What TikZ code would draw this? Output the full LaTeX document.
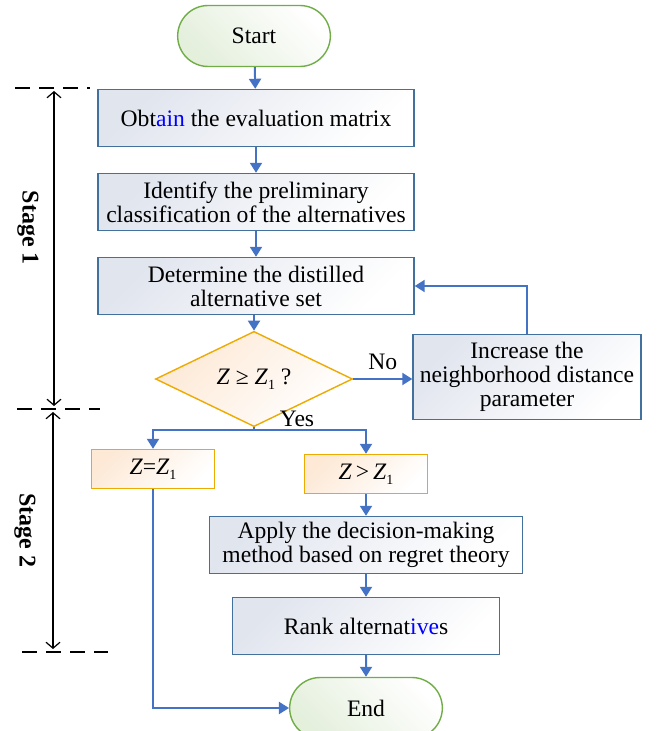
\documentclass[tikz,border=0pt]{standalone}
\usepackage{fontspec}
\setmainfont{Liberation Serif}
\usetikzlibrary{shapes.geometric,shapes.misc,arrows.meta}
\definecolor{flowblue}{HTML}{4472C4}
\definecolor{boxedge}{HTML}{41719C}
\definecolor{boxfill}{HTML}{E1E5EE}
\definecolor{termedge}{HTML}{70AD47}
\definecolor{termfill}{HTML}{E4EFDC}
\definecolor{condedge}{HTML}{EDAA00}
\definecolor{condfill}{HTML}{FDE9D6}
\definecolor{hiblue}{HTML}{0000FF}
\newcommand{\subone}{\raisebox{-0.45ex}{\fontsize{7}{7}\selectfont 1}}

\begin{document}
\begin{tikzpicture}[x=0.5pt,y=-0.5pt,
  font=\fontsize{11.8}{12}\selectfont,
  process/.style={draw=boxedge,line width=0.7pt,top color=boxfill,bottom color=white,shading angle=45,align=center,inner sep=0pt,minimum height=28.5pt},
  terminal/.style={rounded rectangle,draw=termedge,line width=0.7pt,top color=white,bottom color=termfill,shading angle=-45,minimum width=83pt,minimum height=30.5pt},
  condition/.style={draw=condedge,line width=0.7pt,top color=condfill,bottom color=white,shading angle=45,inner sep=0pt},
  flow/.style={draw=flowblue,line width=1pt,-{Triangle[length=5pt,width=6pt]}},
  dim/.style={draw=black,line width=0.6pt,{Straight Barb[length=3pt,width=7pt]}-{Straight Barb[length=3pt,width=7pt]}},
  guide/.style={draw=black,line width=0.7pt,dash pattern=on 7.5pt off 4.5pt},
  stage/.style={rotate=-90,font=\fontsize{12}{12}\selectfont\bfseries}]
  \useasboundingbox (0,0) rectangle (657,731);

  % main column
  \node [terminal] (start) at (254,36) {Start};
  \node [process,minimum width=158pt] (obtain) at (256,118) {Obt\textcolor{hiblue}{ain} the evaluation matrix};
  \node [process,minimum width=158pt] (identify) at (256,202) {Identify the preliminary\\classification of the alternatives};
  \node [process,minimum width=158pt] (distil) at (256,286) {Determine the distilled\\alternative set};
  \node [condition,diamond,minimum width=98.5pt,minimum height=36pt] (cond) at (254,379) {\textit{Z} ≥ \textit{Z}\subone\ ?};
  \node [process,minimum width=114pt,minimum height=42.5pt] (increase) at (527,377) {Increase the\\neighborhood distance\\parameter};

  % yes branch
  \coordinate (split) at (254,430);
  \node [condition,minimum width=61.5pt,minimum height=19.5pt] (equal) at (153,469) {\textit{Z}=\textit{Z}\subone};
  \node [condition,minimum width=61.5pt,minimum height=19.5pt] (greater) at (366,474) {\textit{Z}\,>\,\textit{Z}\subone};
  \node [process,minimum width=156.5pt] (apply) at (366,545) {Apply the decision-making\\method based on regret theory};
  \node [process,minimum width=133.5pt] (rank) at (366,626) {Rank alternat\textcolor{hiblue}{ive}s};
  \node [terminal] (end) at (366,708) {End};

  % connectors
  \draw [flow] (start) -- (obtain);
  \draw [flow] (obtain) -- (identify);
  \draw [flow] (identify) -- (distil);
  \draw [flow] (distil.south -| cond.north) -- (cond.north);
  \draw [flow] (cond.east) -- node [above=1pt,black] {No} (increase.west |- cond.east);
  \draw [flow] (increase.north) |- (distil.east);
  \draw [draw=flowblue,line width=1pt] (cond.south) -- (split);
  \draw [flow] (split) -| (equal.north);
  \draw [flow] (split) -| (greater.north);
  \node [black] at (297,419) {Yes};
  \draw [flow] (greater) -- (apply.north -| greater.south);
  \draw [flow] (apply.south -| rank.north) -- (rank);
  \draw [flow] (rank) -- (end);
  \draw [flow] (equal.south) |- (end.west);

  % stages
  \draw [guide] (15,88) -- (90,88);
  \draw [guide] (17,409) -- (100,409);
  \draw [guide] (22,652) -- (108,652);
  \coordinate (s1top) at (54,91);
  \coordinate (s1bot) at (54,406);
  \coordinate (s2top) at (53,412);
  \coordinate (s2bot) at (53,649);
  \draw [dim] (s1top) -- (s1bot);
  \draw [dim] (s2top) -- (s2bot);
  \node [stage] at (28,228) {Stage 1};
  \node [stage] at (25,530) {Stage 2};
\end{tikzpicture}
\end{document}
